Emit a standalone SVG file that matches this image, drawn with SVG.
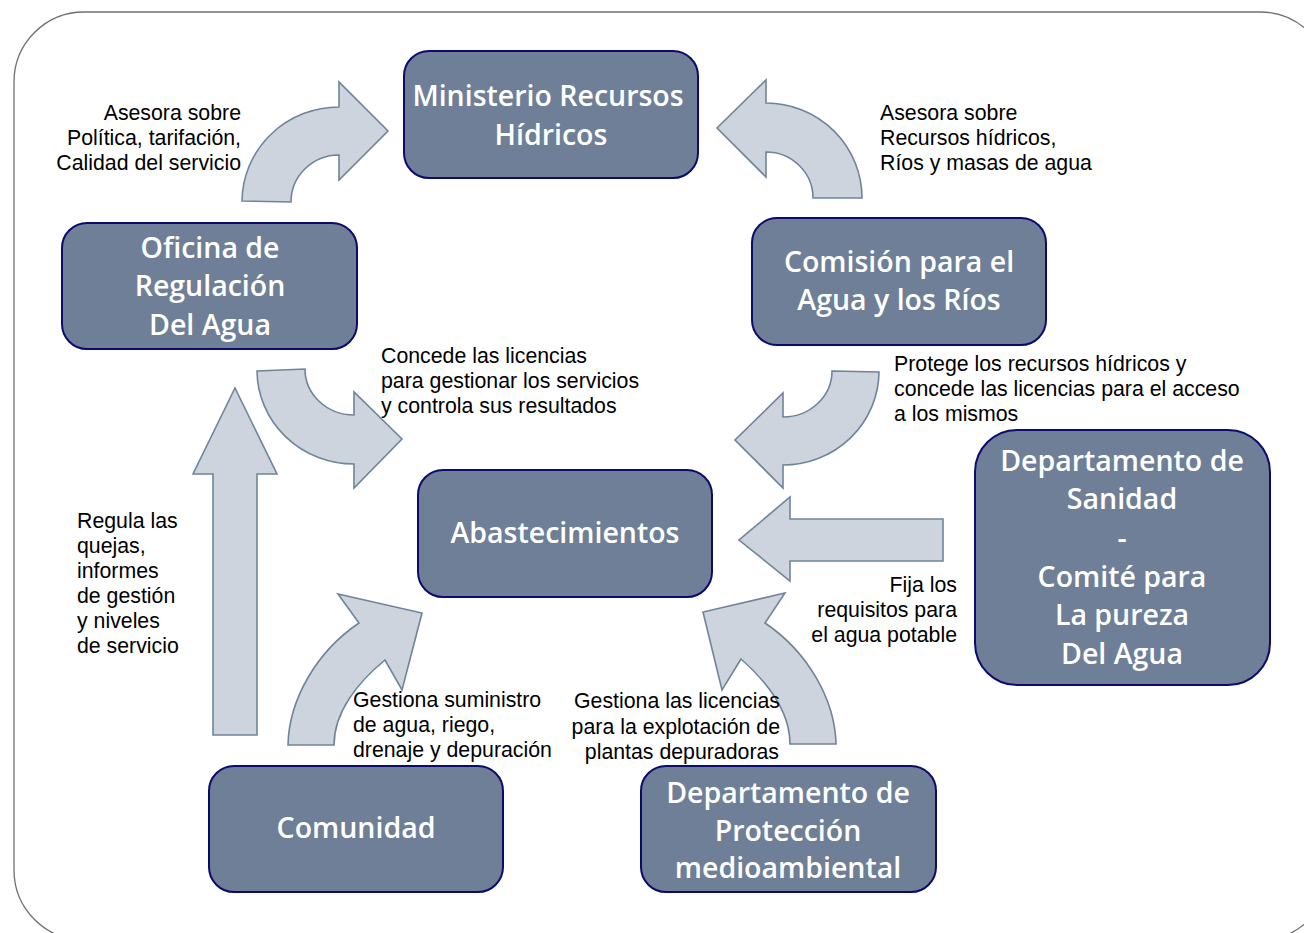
<svg xmlns="http://www.w3.org/2000/svg" width="1304" height="933" viewBox="0 0 1304 933">
<style>
.frame{fill:#ffffff;stroke:#707070;stroke-width:1.3}
.node{fill:#6E7F97;stroke:#0B0B6E;stroke-width:2}
.nt{font-family:"Open Sans","DejaVu Sans",sans-serif;font-weight:600;font-size:28.5px;fill:#ffffff;text-anchor:middle}
.arr{fill:#CDD4DE;stroke:#6F849B;stroke-width:1.6;stroke-linejoin:miter}
.lb{font-family:"Liberation Sans",Arial,sans-serif;font-size:21.3px;fill:#000000}
.r{text-anchor:end}
</style>
<rect width="1304" height="933" fill="#ffffff"/>
<rect class="frame" x="14" y="12" width="1316" height="928" rx="70" ry="70"/>
<g id="connectors">
<path class="arr" d="M242,201 A97,95 0 0 1 339,107 L339,82 L388,131 L339,180 L339,155 A48,47 0 0 0 291,202 Z"/>
<path class="arr" d="M862,198 A96,95 0 0 0 766,103 L766,80 L717,128 L766,177 L766,152 A47,46 0 0 1 813,198 Z"/>
<path class="arr" d="M257,371 L305,369 A49,46 0 0 0 354,415 L354,392 L402,439 L354,488 L354,464 A97,94 0 0 1 257,371 Z"/>
<path class="arr" d="M832,371 L879,372 A96,94 0 0 1 783,465 L783,488 L735,440 L783,393 L783,417 A49,46 0 0 0 832,371 Z"/>
<path class="arr" d="M943,519 L790,519 L790,497 L739,540 L790,581 L790,561 L943,561 Z"/>
<path class="arr" d="M288,745 C289,700 316,652 359,623 L338,594 L422,613 L402,690 L385,660 C358,682 334,712 334,745 Z"/>
<path class="arr" d="M836,744 C835,700 808,652 765,623 L785,593 L703,612 L722,690 L741,659 C767,682 790,712 790,744 Z"/>
<path class="arr" d="M213,735 L213,474 L193,474 L235,388 L277,474 L257,474 L257,735 Z"/>
</g>
<g id="labels">
<text class="lb r" x="241" y="120">Asesora sobre</text>
<text class="lb r" x="241" y="145">Política, tarifación,</text>
<text class="lb r" x="241" y="170">Calidad del servicio</text>
<text class="lb" x="880" y="120">Asesora sobre</text>
<text class="lb" x="880" y="145">Recursos hídricos,</text>
<text class="lb" x="880" y="170">Ríos y masas de agua</text>
<text class="lb" x="381" y="363">Concede las licencias</text>
<text class="lb" x="381" y="388">para gestionar los servicios</text>
<text class="lb" x="381" y="413">y controla sus resultados</text>
<text class="lb" x="894" y="371">Protege los recursos hídricos y</text>
<text class="lb" x="894" y="396">concede las licencias para el acceso</text>
<text class="lb" x="894" y="421">a los mismos</text>
<text class="lb" x="77" y="528">Regula las</text>
<text class="lb" x="77" y="553">quejas,</text>
<text class="lb" x="77" y="578">informes</text>
<text class="lb" x="77" y="603">de gestión</text>
<text class="lb" x="77" y="628">y niveles</text>
<text class="lb" x="77" y="653">de servicio</text>
<text class="lb r" x="957" y="592">Fija los</text>
<text class="lb r" x="957" y="617">requisitos para</text>
<text class="lb r" x="957" y="642">el agua potable</text>
<text class="lb" x="353" y="707">Gestiona suministro</text>
<text class="lb" x="353" y="732">de agua, riego,</text>
<text class="lb" x="353" y="757">drenaje y depuración</text>
<text class="lb r" x="780" y="708">Gestiona las licencias</text>
<text class="lb r" x="780" y="734">para la explotación de</text>
<text class="lb r" x="779" y="759">plantas depuradoras</text>
</g>
<g id="ministerio">
<rect class="node" x="404" y="51" width="294" height="127" rx="25"/>
<text class="nt" x="548" y="106">Ministerio Recursos</text>
<text class="nt" x="551" y="145">Hídricos</text>
</g>
<g id="oficina">
<rect class="node" x="62" y="223" width="295" height="126" rx="25"/>
<text class="nt" x="210" y="258">Oficina de</text>
<text class="nt" x="210" y="296">Regulación</text>
<text class="nt" x="210" y="335">Del Agua</text>
</g>
<g id="comision">
<rect class="node" x="752" y="218" width="294" height="127" rx="25"/>
<text class="nt" x="899" y="272">Comisión para el</text>
<text class="nt" x="899" y="310">Agua y los Ríos</text>
</g>
<g id="abastecimientos">
<rect class="node" x="418" y="470" width="294" height="127" rx="25"/>
<text class="nt" x="565" y="543">Abastecimientos</text>
</g>
<g id="sanidad">
<rect class="node" x="975" y="430" width="295" height="255" rx="42"/>
<text class="nt" x="1122" y="471">Departamento de</text>
<text class="nt" x="1122" y="509">Sanidad</text>
<text class="nt" x="1122" y="548">-</text>
<text class="nt" x="1122" y="587">Comité para</text>
<text class="nt" x="1122" y="625">La pureza</text>
<text class="nt" x="1122" y="664">Del Agua</text>
</g>
<g id="comunidad">
<rect class="node" x="209" y="766" width="294" height="126" rx="25"/>
<text class="nt" x="356" y="838">Comunidad</text>
</g>
<g id="proteccion">
<rect class="node" x="641" y="766" width="295" height="126" rx="25"/>
<text class="nt" x="788" y="803">Departamento de</text>
<text class="nt" x="788" y="841">Protección</text>
<text class="nt" x="788" y="878">medioambiental</text>
</g>
</svg>
